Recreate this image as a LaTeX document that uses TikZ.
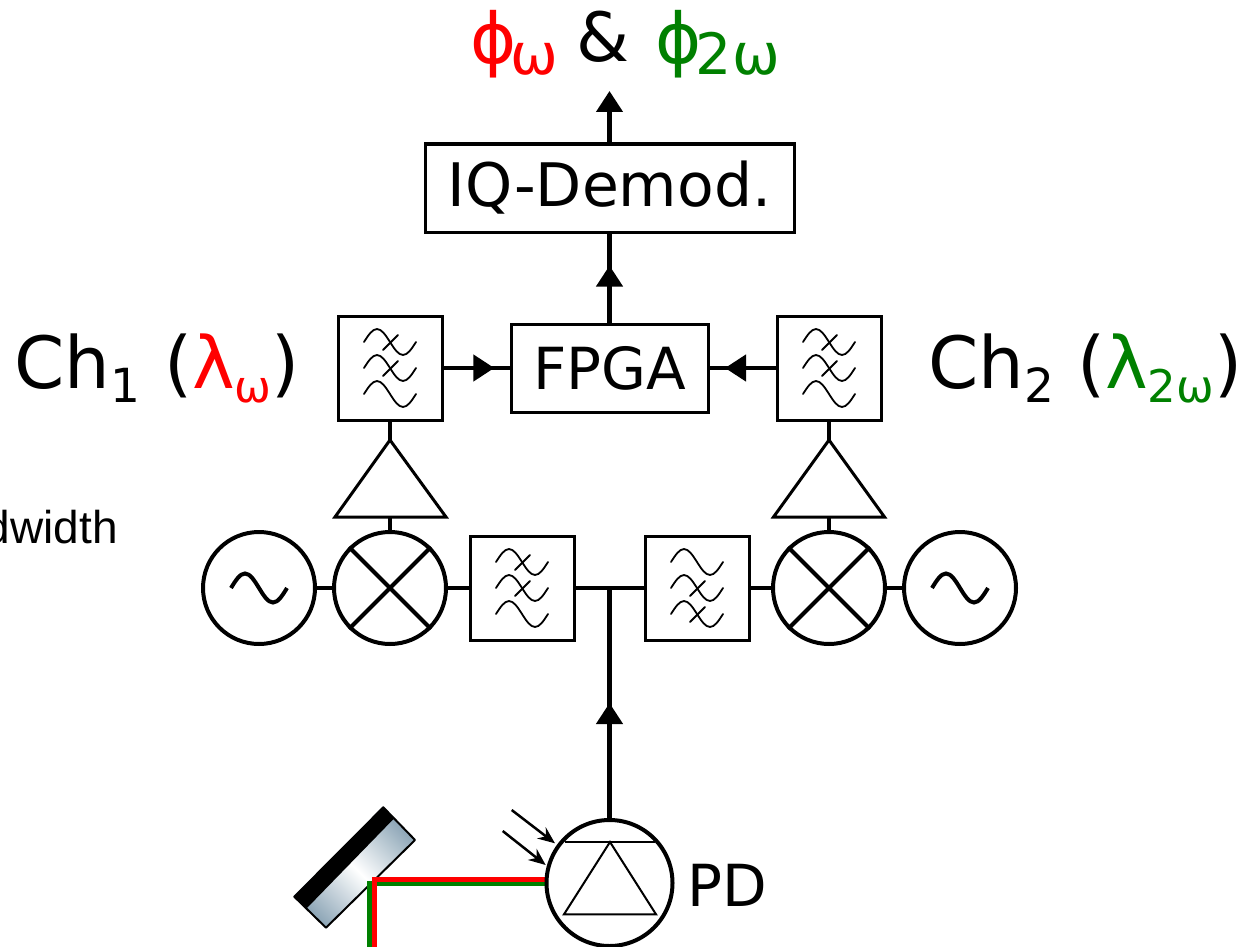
\documentclass[tikz,border=0pt]{standalone}
\usepackage{fontspec}
\setmainfont{DejaVu Sans}
\newfontfamily\arialfont{Liberation Sans}
\usetikzlibrary{arrows.meta,decorations.markings,calc}
\definecolor{dkgreen}{RGB}{0,128,0}
\definecolor{mirrorblue}{RGB}{140,165,182}
\newcommand{\fsz}[1]{\fontsize{#1}{#1}\selectfont}
\tikzset{
  x=1pt,y=-1pt,
  wire/.style={line width=4.5pt},
  thinline/.style={line width=2pt},
  filterbox/.style={draw,line width=3pt,fill=white,minimum size=104pt,inner sep=0pt},
  roundel/.style={draw,circle,line width=4pt,fill=white,minimum size=112pt,inner sep=0pt},
  textbox/.style={draw,line width=3pt,fill=white,inner sep=0pt,font=\fsz{60}},
  label/.style={inner sep=0pt,anchor=base west},
  bigtip/.style={-{Triangle[length=21pt,width=26pt]}},
  midarrow/.style={postaction={decorate,decoration={markings,mark=at position #1 with {\arrow{Triangle[length=21pt,width=26pt]}}}}},
  wavepen/.style={line width=1.8pt,line cap=round},
  pics/waverow/.style={code={
    \draw[wavepen] (-26,0) sin (-13,-13) cos (0,0) sin (13,13) cos (26,0);
    \ifnum#1=1 \draw[wavepen] (-7,8) -- (8,-7);\fi
  }},
}
\newcommand{\waves}[4]{%
  \pic at ($(#1)+(0,-26)$) {waverow=#2};
  \pic at (#1) {waverow=#3};
  \pic at ($(#1)+(0,26)$) {waverow=#4};}
\begin{document}
\begin{tikzpicture}
\useasboundingbox (0,0) rectangle (1255,947);
% beams
\coordinate (gs) at (369.5,947);
\coordinate (gc) at (369.5,883.5);
\coordinate (ge) at (548,883.5);
\coordinate (rs) at (374.5,947);
\coordinate (rc) at (374.5,879);
\coordinate (re) at (548,879);
% mirror
\shade[transform canvas={xshift=354.7pt,yshift=-867.5pt,rotate=45},left color=mirrorblue,right color=mirrorblue,middle color=white] (-63,-23) rectangle (63,23);
\draw[line width=2pt,line join=round] (383.3,807.3) -- (415,840) -- (326,927.7) -- (294.3,896.7) -- cycle;
\fill (383.3,807.3) -- (393.5,819) -- (306.5,908.5) -- (294.3,896.7) -- cycle;
\draw[dkgreen,line width=5pt] (gs) -- (gc) -- (ge);
\draw[red,line width=5pt] (rs) -- (rc) -- (re);
% nodes
\node[textbox,minimum width=369pt,minimum height=88pt] (iq) at (609.5,188) {IQ-Demod.};
\node[textbox,minimum width=197pt,minimum height=88pt,font=\fsz{58}] (fpga) at (609.5,368) {FPGA};
\node[filterbox] (f1) at (390,368) {};
\node[filterbox] (f2) at (829,368) {};
\node[filterbox] (f3) at (522,588) {};
\node[filterbox] (f4) at (697,588) {};
\coordinate (top) at (609.5,91);
\coordinate (junction) at (609.5,588);
\node[roundel] (m1) at (390,588) {};
\node[roundel] (m2) at (829,588) {};
\node[roundel] (o1) at (259,588) {};
\node[roundel] (o2) at (960,588) {};
\coordinate (t1a) at (390,440);
\coordinate (t2a) at (829,440);
\coordinate (t1l) at (335,517);
\coordinate (t1r) at (446,517);
\coordinate (t1b) at (390,517);
\coordinate (t2l) at (773.5,517);
\coordinate (t2r) at (884.5,517);
\coordinate (t2b) at (829,517);
\node[draw,circle,line width=4pt,fill=white,minimum size=126pt,inner sep=0pt] (pd) at (609.5,883) {};
% connectors
\draw[wire,bigtip] (iq.north) -- (top);
\draw[wire,midarrow=0.64] (fpga.north) -- (iq.south);
\draw[wire,midarrow=0.77] (f1.east) -- (fpga.west);
\draw[wire,midarrow=0.765] (f2.west) -- (fpga.east);
\draw[wire] (m1.east) -- (f3.west);
\draw[wire] (m2.west) -- (f4.east);
\draw[wire] (o1.east) -- (m1.west);
\draw[wire] (o2.west) -- (m2.east);
\draw[wire] (f3.east) -- (f4.west);
\draw[wire,midarrow=0.5] (pd.north) -- (junction);
\draw[wire] (f1.south) -- (t1a);
\draw[wire] (f2.south) -- (t2a);
\draw[wire] (t1b) -- (m1.north);
\draw[wire] (t2b) -- (m2.north);
% amplifiers
\draw[line width=3pt,line join=miter,fill=white] (t1a) -- (t1r) -- (t1l) -- cycle;
\draw[line width=3pt,line join=miter,fill=white] (t2a) -- (t2r) -- (t2l) -- cycle;
% filter symbols
\waves{f1}{1}{1}{0}
\waves{f2}{1}{1}{0}
\waves{f3}{1}{1}{0}
\waves{f4}{0}{1}{1}
% mixers
\foreach \m in {m1,m2}{
  \draw[line width=4pt] (\m.45) -- (\m.225);
  \draw[line width=4pt] (\m.135) -- (\m.315);
}
% oscillators
\foreach \o in {o1,o2}{
  \draw[line width=4pt] ($(\o)+(-28,0)$) sin ($(\o)+(-14,-14.5)$) cos (\o) sin ($(\o)+(14,14.5)$) cos ($(\o)+(28,0)$);
}
% photodiode
\draw[thinline] (565,841.7) -- (655,841.7);
\draw[thinline,line join=miter] (610,842) -- (656,914.3) -- (564,914.3) -- cycle;
\coordinate (ar1s) at (511.7,810);
\coordinate (ar1e) at (555,843.3);
\coordinate (ar2s) at (502.7,831);
\coordinate (ar2e) at (545.7,865);
\draw[line width=2.5pt,-{Stealth[length=17pt,width=14pt]}] (ar1s) -- (ar1e);
\draw[line width=2.5pt,-{Stealth[length=17pt,width=14pt]}] (ar2s) -- (ar2e);
% labels
\node[label] (phase) at (470,64) {{\fsz{70}\color{red}ϕ}\hspace{-6pt}\raisebox{-11pt}{\fsz{57}\color{red}ω}\hspace{18.5pt}\raisebox{2pt}{\fsz{68}\&}\hspace{26pt}{\fsz{70}\color{dkgreen}ϕ}\hspace{-6pt}\raisebox{-11pt}{\fsz{57}\color{dkgreen}2ω}};
\node[label] (ch1) at (14,388) {\fsz{72}Ch\raisebox{-14pt}{\fsz{47}1}\hspace{24pt}(\textcolor{red}{λ}\raisebox{-14pt}{\fsz{44}\color{red}ω})};
\node[label] (ch2) at (928,388) {\fsz{72}Ch\raisebox{-14pt}{\fsz{47}2}\hspace{23pt}(\textcolor{dkgreen}{λ}\raisebox{-14pt}{\fsz{45}\color{dkgreen}2ω})};
\node[inner sep=0pt,anchor=base east,font=\arialfont\fsz{46}] (bw) at (118,543) {dwidth};
\node[label,font=\fsz{58}] (pdl) at (687,906) {PD};
\end{tikzpicture}
\end{document}
